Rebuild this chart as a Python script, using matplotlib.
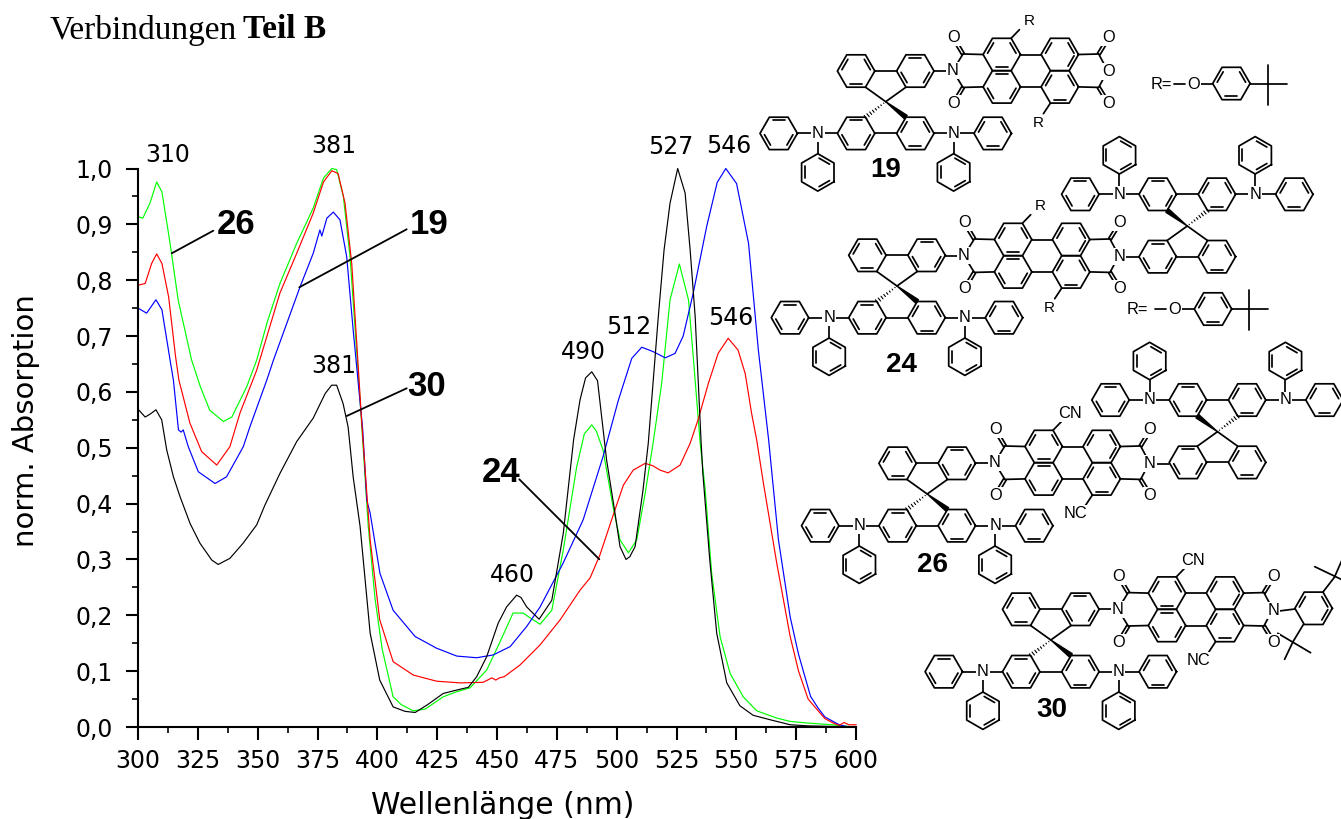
import numpy as np
import matplotlib
matplotlib.use("Agg")
import matplotlib.pyplot as plt
from matplotlib.patches import Polygon

# absorption spectra
wl_30 = [300, 303, 305, 307.5, 309.9, 312, 314.8, 317.6, 321.8, 325.9, 330.8, 333.5, 338.4, 343.9, 349.6, 353, 359.3, 366.3, 373.2, 378.2, 380.9, 383, 385.7, 387.8, 389.9, 392.8, 397, 401, 406.6, 411.6, 415.8, 421, 427.5, 433, 438, 441.5, 445.7, 450.5, 454, 458.2, 460, 462.4, 467.6, 472.9, 477.7, 482, 484.7, 487, 489.6, 492, 495.8, 499.3, 501.4, 503.9, 505.5, 507.7, 511, 513.2, 517.4, 519.8, 522.3, 525.5, 528.6, 530.7, 532.8, 535.3, 536, 538.9, 541.8, 546, 551.5, 557, 564.1, 572.5, 580, 590, 600]
abs_30 = [.569, .555, .56, .568, .55, .496, .448, .412, .364, .329, .299, .291, .302, .329, .362, .397, .454, .511, .553, .597, .612, .612, .579, .537, .448, .359, .168, .084, .036, .028, .026, .04, .06, .066, .071, .09, .126, .186, .215, .236, .232, .215, .193, .227, .347, .514, .586, .625, .636, .62, .478, .383, .323, .30, .305, .323, .424, .508, .735, .854, .938, 1.0, .956, .854, .735, .508, .455, .299, .168, .079, .038, .021, .013, .004, .002, .001, 0]

wl_26 = [300, 302, 305, 307.8, 310, 313.4, 316.8, 322.4, 326, 330, 335.7, 339.2, 345.4, 349.6, 354, 359.3, 366.3, 373.2, 377.5, 381, 383, 385.8, 388.6, 392.7, 396.2, 399, 402, 406.6, 410, 415, 420, 427.5, 433, 438.7, 445.7, 451, 456.7, 460.9, 464, 468, 472.9, 477.7, 483.3, 486.5, 489.6, 491.5, 494.3, 498.5, 501.4, 504.9, 508.4, 511.9, 515.2, 518.8, 522.3, 526.2, 530, 532, 534.9, 537, 539.7, 543.2, 547.4, 552.9, 558.5, 566.9, 572.5, 580, 590, 597, 600]
abs_26 = [.914, .911, .938, .976, .958, .866, .764, .657, .61, .567, .547, .555, .609, .657, .725, .794, .866, .929, .983, 1.0, .998, .95, .842, .591, .36, .231, .14, .054, .04, .029, .032, .054, .063, .07, .102, .15, .204, .204, .195, .184, .209, .317, .466, .525, .541, .53, .496, .394, .335, .312, .335, .418, .508, .615, .765, .829, .765, .663, .508, .424, .275, .162, .096, .054, .029, .016, .01, .007, .004, .001, 0]

wl_19 = [300, 303.6, 307.5, 310, 313.4, 314.8, 316.9, 318, 318.9, 321, 325.2, 332.2, 337, 344, 346.8, 353.8, 356.6, 367.7, 373.2, 376, 376.8, 378.9, 381.6, 384.4, 387.2, 389.9, 393.9, 395.6, 397, 401.1, 406.6, 415.8, 424.8, 433.2, 441.5, 448.4, 455.5, 462.4, 468, 477.7, 486, 494.3, 500.7, 506.3, 510.5, 515.3, 520.3, 524.4, 527.8, 532, 537.6, 542, 545.6, 550.1, 555.1, 559.2, 563.5, 567.6, 572.5, 576, 581, 584, 587, 593, 597]
abs_19 = [.75, .741, .765, .747, .657, .621, .532, .528, .532, .502, .457, .436, .448, .502, .538, .621, .657, .788, .848, .89, .879, .911, .922, .908, .842, .711, .532, .406, .383, .275, .209, .162, .141, .127, .124, .129, .144, .18, .215, .294, .371, .484, .585, .66, .68, .672, .661, .669, .70, .777, .896, .975, 1.0, .973, .866, .675, .514, .335, .197, .13, .055, .035, .018, .004, 0]

wl_24 = [300, 303, 305.7, 307.8, 310, 312.8, 315.7, 317.1, 321.7, 326.6, 332.9, 338.4, 342.6, 349.6, 359.3, 366.3, 373.2, 377.5, 381, 383.6, 386.5, 389.3, 393.5, 397, 401, 406.6, 415, 424.8, 434.6, 444.2, 446.5, 447.8, 449.5, 451, 453, 459.6, 468, 476.4, 484.7, 488.9, 493, 498.6, 502.8, 506.9, 511.9, 515, 518.1, 521.5, 526.5, 530.7, 534, 538.3, 542.4, 546.6, 550.7, 553.7, 556.4, 558.5, 561.3, 566.9, 572.5, 576, 580, 584, 587, 591, 593, 595, 597, 600]
abs_24 = [.791, .794, .83, .847, .83, .77, .663, .621, .544, .493, .469, .502, .562, .639, .777, .848, .92, .976, .996, .991, .938, .83, .544, .335, .192, .117, .093, .082, .079, .08, .085, .088, .084, .088, .09, .111, .147, .192, .245, .267, .308, .38, .433, .46, .472, .468, .46, .455, .469, .508, .55, .615, .669, .696, .675, .633, .561, .514, .437, .293, .162, .10, .05, .03, .015, .006, .003, .008, .004, .004]

x_ticks = list(range(300, 601, 25))
y_ticks = [0.0, 0.1, 0.2, 0.3, 0.4, 0.5, 0.6, 0.7, 0.8, 0.9, 1.0]

W, H = 1341, 819
R = 18.7
LW = 1.25


def bond(ov, x1, y1, x2, y2, lw=LW):
    ov.plot([x1, x2], [y1, y2], color="black", lw=lw, solid_capstyle="round", zorder=3)


def atom(ov, x, y, s, size=11.8):
    ov.text(x, y, s, fontsize=size, family="Liberation Sans", ha="center", va="center", zorder=5,
            bbox=dict(facecolor="white", edgecolor="none", pad=0.6))


def number(ov, x, y, s, size=20):
    ov.text(x, y, s, fontsize=size, fontweight="bold", family="Liberation Sans", ha="center", va="center")


def hexagon(ov, cx, cy, doubles=(1, 3, 5), pointy=False):
    start = 30 if pointy else 0
    ang = np.radians(start + 60 * np.arange(7))
    xs = cx + R * np.cos(ang)
    ys = cy + R * np.sin(ang)
    ov.plot(xs, ys, color="black", lw=LW, solid_joinstyle="round", zorder=3)
    for i in doubles:
        a = np.array([xs[i], ys[i]])
        b = np.array([xs[i + 1], ys[i + 1]])
        c = np.array([cx, cy])
        a2 = c + (a - c) * 0.8
        b2 = c + (b - c) * 0.8
        m = (a2 + b2) / 2
        a2 = m + (a2 - m) * 0.8
        b2 = m + (b2 - m) * 0.8
        bond(ov, a2[0], a2[1], b2[0], b2[1])


def double(ov, x1, y1, x2, y2):
    d = np.array([x2 - x1, y2 - y1], dtype=float)
    n = np.array([-d[1], d[0]]) / np.hypot(*d) * 1.5
    for k in (-1, 1):
        bond(ov, x1 + k * n[0], y1 + k * n[1], x2 + k * n[0], y2 + k * n[1])


def wedge(ov, x1, y1, x2, y2):
    d = np.array([x2 - x1, y2 - y1], dtype=float)
    n = np.array([-d[1], d[0]]) / np.hypot(*d) * 2.2
    ov.add_patch(Polygon([(x1, y1), (x2 + n[0], y2 + n[1]), (x2 - n[0], y2 - n[1])], color="black", zorder=3))


def hashed(ov, x1, y1, x2, y2):
    d = np.array([x2 - x1, y2 - y1], dtype=float)
    n = np.array([-d[1], d[0]]) / np.hypot(*d) * 2.2
    for t in np.linspace(0.1, 1, 8):
        px, py = x1 + d[0] * t, y1 + d[1] * t
        bond(ov, px - n[0] * t, py - n[1] * t, px + n[0] * t, py + n[1] * t, lw=0.8)


def amine(ov, nx, ny, side, up):
    # side: outer phenyl to the left (-1) or right (1); up: second phenyl above or below
    v = -1 if up else 1
    atom(ov, nx, ny, "N")
    bond(ov, nx - side * 5, ny, nx - side * 19.6, ny)
    bond(ov, nx + side * 5, ny, nx + side * 20.4, ny)
    hexagon(ov, nx + side * 39.1, ny, doubles=(1, 3, 5) if side > 0 else (0, 2, 4))
    bond(ov, nx, ny + v * 5, nx, ny + v * 20)
    hexagon(ov, nx, ny + v * 39, doubles=(0, 2, 4), pointy=True)


def spiro(ov, x, y, s=1):
    # s=1: diarylamine half below the spiro centre, s=-1: above it
    far = y + s * 31.7
    near = y - s * 30.7
    hexagon(ov, x - 29.6, near, doubles=(1, 3, 5) if s > 0 else (0, 2, 4))
    hexagon(ov, x + 29.6, near, doubles=(0, 2, 4) if s > 0 else (1, 3, 5))
    hexagon(ov, x - 29.6, far, doubles=(0, 2, 4))
    hexagon(ov, x + 29.6, far, doubles=(1, 3, 5))
    bond(ov, x - 10.9, near, x + 10.9, near)
    bond(ov, x - 10.9, far, x + 10.9, far)
    bond(ov, x, y, x - 20.2, near + s * 16.2)
    bond(ov, x, y, x + 20.2, near + s * 16.2)
    if s > 0:
        wedge(ov, x, y, x + 20.2, far - 16.2)
        hashed(ov, x, y, x - 20.2, far - 16.2)
    else:
        wedge(ov, x, y, x - 20.2, far + 16.2)
        hashed(ov, x, y, x + 20.2, far + 16.2)
    amine(ov, x - 67.9, far, -1, s < 0)
    amine(ov, x + 67.9, far, 1, s < 0)


def perylene(ov, nx, ny, top="R", bottom="R", anhydride=False):
    atom(ov, nx, ny, "N")
    for dx in (49.4, 107.4):
        hexagon(ov, nx + dx, ny - 16.2, doubles=(1, 3, 5) if dx < 60 else (0, 3, 5))
        hexagon(ov, nx + dx, ny + 16.2, doubles=(0, 2, 4) if dx < 60 else (1, 3, 5))
    for k in (-1, 1):
        bond(ov, nx + 68.1, ny + k * 16.2, nx + 88.7, ny + k * 16.2)
        # imide / anhydride carbonyls
        bond(ov, nx + 4, ny + k * 6, nx + 10.6, ny + k * 16.7)
        bond(ov, nx + 10.6, ny + k * 16.7, nx + 30.7, ny + k * 16.2)
        double(ov, nx + 10.6, ny + k * 16.7, nx + 5, ny + k * 26)
        atom(ov, nx + 1.1, ny + k * 33, "O")
        bond(ov, nx + 126.1, ny + k * 16.2, nx + 146.3, ny + k * 16.7)
        bond(ov, nx + 146.3, ny + k * 16.7, nx + 152, ny + k * 6)
        double(ov, nx + 146.3, ny + k * 16.7, nx + 152, ny + k * 26)
        atom(ov, nx + 155.7, ny + k * 33, "O")
    atom(ov, nx + 155.7, ny + 1, "O" if anhydride else "N")
    bond(ov, nx + 58.7, ny - 32.4, nx + 67, ny - 41)
    bond(ov, nx + 98, ny + 32.4, nx + 91, ny + 43)
    if top == "R":
        atom(ov, nx + 76.5, ny - 50, top, 11)
        atom(ov, nx + 86, ny + 52, bottom, 11)
    else:
        atom(ov, nx + 75.4, ny - 49, top)
        atom(ov, nx + 81, ny + 51, bottom)


def r_group(ov, rx, ry, dash_x, o_x, ring_x, t_x, arm):
    atom(ov, rx, ry, "R=")
    bond(ov, dash_x, ry - 1, dash_x + 11, ry - 1)
    atom(ov, o_x, ry, "O")
    bond(ov, o_x + 5, ry - 1, ring_x - R, ry - 1)
    hexagon(ov, ring_x, ry - 1, doubles=(1, 3, 5))
    bond(ov, ring_x + R, ry - 1, t_x, ry - 1)
    bond(ov, t_x, ry - arm, t_x, ry + arm)
    bond(ov, t_x, ry - 1, t_x + 19, ry - 1)


def draw_structures(ov):
    # 19
    spiro(ov, 885.7, 101.7, 1)
    bond(ov, 934, 71, 947, 71)
    perylene(ov, 952.4, 70.7, anhydride=True)
    r_group(ov, 1161, 84.5, 1174, 1194, 1231.4, 1268.4, 20)
    number(ov, 886, 170, "19")
    # 24
    spiro(ov, 897, 286, 1)
    bond(ov, 945.3, 255.5, 958, 255.5)
    perylene(ov, 963.7, 255.7)
    bond(ov, 1125, 256.7, 1139, 256.7)
    spiro(ov, 1187.3, 226, -1)
    r_group(ov, 1137, 310, 1155.3, 1175, 1213, 1249.5, 20)
    number(ov, 901, 365, "24")
    # 26
    spiro(ov, 927.2, 494, 1)
    bond(ov, 975.5, 463, 989, 463)
    perylene(ov, 994.3, 462.7, top="CN", bottom="NC")
    bond(ov, 1155, 464, 1169, 464)
    spiro(ov, 1217.5, 431.7, -1)
    number(ov, 933, 565, "26")
    # 30
    spiro(ov, 1050.8, 640, 1)
    bond(ov, 1099, 609.3, 1112, 609.3)
    perylene(ov, 1117.6, 609.3, top="CN", bottom="NC")
    bond(ov, 1279, 611, 1295, 609)
    hexagon(ov, 1313.6, 608.3, doubles=(0, 3, 5))
    bond(ov, 1323, 592, 1334.4, 577.3)
    bond(ov, 1314.8, 566.7, 1353, 585)
    bond(ov, 1334.4, 577.3, 1342, 560)
    bond(ov, 1303.4, 624.5, 1293, 641.7)
    bond(ov, 1277.8, 633.3, 1310.6, 652.7)
    bond(ov, 1293, 641.7, 1284.6, 659.3)
    number(ov, 1052, 710, "30")


fig = plt.figure(figsize=(W / 100, H / 100), dpi=100, facecolor="white")
ax = fig.add_axes([138 / W, 1 - 727 / H, 718 / W, 558.5 / H])

ax.plot(wl_26, abs_26, color="#00ff00", lw=0.85, clip_on=False)
ax.plot(wl_19, abs_19, color="#0000ff", lw=0.85, clip_on=False)
ax.plot(wl_24, abs_24, color="#ff0000", lw=0.85, clip_on=False)
ax.plot(wl_30, abs_30, color="black", lw=0.85, clip_on=False)

ax.set_xlim(300, 600)
ax.set_ylim(0, 1.0)
ax.spines["top"].set_visible(False)
ax.spines["right"].set_visible(False)
ax.spines["left"].set_linewidth(1.5)
ax.spines["bottom"].set_linewidth(1.5)
ax.set_xticks(x_ticks)
ax.set_yticks(y_ticks)
ax.set_yticklabels([f"{v:.1f}".replace(".", ",") for v in y_ticks])
ax.set_xticks([v + 12.5 for v in x_ticks[:-1]], minor=True)
ax.set_yticks([v + 0.05 for v in y_ticks[:-1]], minor=True)
ax.tick_params(which="major", length=9, width=1.5, labelsize=17)
ax.tick_params(which="minor", length=4.5, width=1.2)
ax.tick_params(axis="x", which="major", pad=7)
ax.tick_params(axis="y", which="major", pad=9)
ax.set_xlabel("Wellenlänge (nm)", fontsize=21.5, va="center")
ax.set_ylabel("norm. Absorption", fontsize=21, va="center")
ax.xaxis.set_label_coords((503 - 138) / 718, -(805 - 727) / 558.5)
ax.yaxis.set_label_coords((26 - 138) / 718, (727 - 421) / 558.5)

# overlay in picture pixels for the annotations and the formulas
ov = fig.add_axes([0, 0, 1, 1], facecolor="none")
ov.set_xlim(0, W)
ov.set_ylim(H, 0)
ov.axis("off")

ov.text(50, 30, "Verbindungen", fontsize=24, family="Liberation Serif", va="center")
ov.text(243, 30, "Teil B", fontsize=24, family="Liberation Serif", fontweight="bold", va="center")

peak_labels = [("310", 168, 155), ("381", 334, 146), ("381", 334, 366), ("527", 671, 147),
               ("546", 729, 146), ("512", 629, 327), ("546", 731, 318), ("490", 583, 352), ("460", 512, 575)]
for s, x, y in peak_labels:
    ov.text(x, y, s, fontsize=17, ha="center", va="center")

compound_labels = [("26", 236, 225), ("19", 429, 225), ("30", 427, 387), ("24", 501, 472)]
for s, x, y in compound_labels:
    number(ov, x, y, s, 25)

leaders = [(171.7, 253.3, 213.3, 230.7), (299.3, 287.3, 406.7, 229.3), (346.7, 416, 406.7, 388.3), (519.3, 479.3, 599.3, 559.3)]
for x1, y1, x2, y2 in leaders:
    bond(ov, x1, y1, x2, y2, lw=1.3)

draw_structures(ov)

fig.savefig("out.png", dpi=100)
